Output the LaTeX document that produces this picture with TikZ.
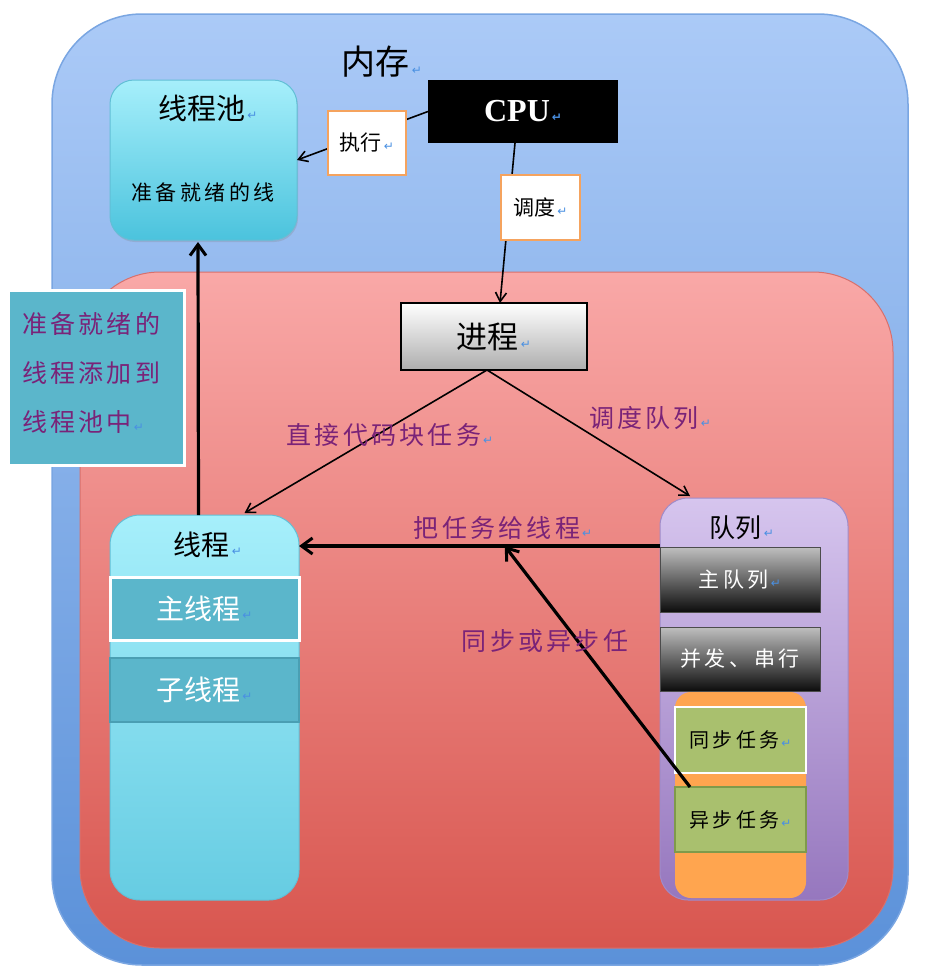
\documentclass[tikz,border=0pt]{standalone}
\usepackage{fontspec}
\setmainfont{Liberation Serif}
\newfontfamily\cjk{Noto Sans CJK SC}
\newfontfamily\cjkw{Noto Sans CJK SC}[LetterSpace=13]
\newfontfamily\dejavu{DejaVu Sans}
\usetikzlibrary{arrows.meta,calc,shadows}
\definecolor{blueTop}{HTML}{ABCAF7}
\definecolor{blueBot}{HTML}{5B91D9}
\definecolor{blueEdge}{HTML}{7AA6E2}
\definecolor{redTop}{HTML}{F9A8A7}
\definecolor{redBot}{HTML}{D8564F}
\definecolor{redEdge}{HTML}{D8706C}
\definecolor{cyanTop}{HTML}{A6EFFB}
\definecolor{cyanBot}{HTML}{4BC3DD}
\definecolor{cyanEdge}{HTML}{62BFD6}
\definecolor{tealFill}{HTML}{5BB6CB}
\definecolor{tealEdge}{HTML}{4A9FB3}
\definecolor{purTop}{HTML}{D6C5EE}
\definecolor{purBot}{HTML}{9677BE}
\definecolor{purEdge}{HTML}{A08BC8}
\definecolor{orangeFill}{HTML}{FFA54F}
\definecolor{greenFill}{HTML}{A9C06E}
\definecolor{greenEdge}{HTML}{7F9A4B}
\definecolor{tagEdge}{HTML}{F5A35E}
\definecolor{labelPurple}{HTML}{7A2378}
\definecolor{retblue}{HTML}{4A90E2}
\newcommand\retm{{\dejavu\fontsize{12}{12}\selectfont\color{retblue}\,↵}}
\newcommand\cjks[1]{\cjk\fontsize{#1}{#1}\selectfont}
\newcommand\cjkws[1]{\cjkw\fontsize{#1}{#1}\selectfont}
\tikzset{
  every node/.style={inner sep=0pt, outer sep=0pt},
  outerbox/.style={draw=blueEdge, line width=1.5pt, top color=blueTop, bottom color=blueBot, rounded corners=90pt},
  redbox/.style={draw=redEdge, line width=1pt, top color=redTop, bottom color=redBot, rounded corners=80pt},
  cyanbox/.style={draw=cyanEdge, line width=1pt, top color=cyanTop, bottom color=cyanBot},
  tagbox/.style={draw=tagEdge, fill=white, line width=2.5pt},
  btnbox/.style={draw=black!70, line width=0.8pt, top color=black!25, middle color=black!70, bottom color=black!95},
  greenbox/.style={fill=greenFill, line width=2.5pt},
  lbl/.style={text=labelPurple},
  thin arrow/.style={draw=black, line width=1.6pt, -{Straight Barb[length=9pt,width=11pt,line width=1.6pt]}},
  thick arrow/.style={draw=black, line width=3.2pt, -{Straight Barb[length=11pt,width=16pt,line width=3pt]}}
}
\begin{document}
\begin{tikzpicture}[x=1pt,y=-1pt]
\useasboundingbox (0,0) rectangle (926,980);
\fill[white] (0,0) rectangle (926,980);
% memory (outer)
\node[outerbox, minimum width=856pt, minimum height=951pt] (mem) at (480,489.5) {};
\node (memlbl) at (382,62) {\cjks{34}内存\retm};
% process area (red)
\node[redbox, minimum width=813pt, minimum height=676pt] (procarea) at (486.5,610) {};
% thread pool
\node[cyanbox, rounded corners=24pt, minimum width=187pt, minimum height=160pt, drop shadow={opacity=0.25,shadow xshift=1pt,shadow yshift=-2pt}] (pool) at (203.5,160) {};
\node (pooltitle) at (208,108) {\cjks{29}线程池\retm};
\node (pooltext) at (203,192) {\cjks{21}准\,备\,就\,绪\,的\,线};
% CPU
\node[fill=black, minimum width=190pt, minimum height=63pt] (cpu) at (523,111.5) {\fontsize{32}{32}\selectfont\bfseries\color{white}CPU\retm};
% arrows from CPU
\draw[thin arrow] (cpu.west) -- (pool.east);
\draw[thin arrow] ($(cpu.south)+(-8,0)$) -- ($(494,303)+(6,0)$) coordinate (procin);
% tags
\node[tagbox, minimum width=78pt, minimum height=64pt] (exec) at (367,143) {\cjks{21}执行\retm};
\node[tagbox, minimum width=79pt, minimum height=65pt] (sched) at (540.5,207.5) {\cjks{21}调度\retm};
% process
\node[draw=black, line width=1.2pt, top color=white, bottom color=black!32, minimum width=186pt, minimum height=67pt] (proc) at (494,336.5) {\cjks{31}进程\retm};
% note
\node[fill=tealFill, draw=white, line width=3pt, minimum width=176pt, minimum height=175pt, drop shadow={opacity=0.3,shadow xshift=2pt,shadow yshift=-2pt}] (note) at (96,377.5) {};
\node[lbl, align=left, anchor=north west, font=\cjkws{25}] (notetext) at (22,312) {准备就绪的\\[24pt]线程添加到\\[24pt]线程池中\retm};
% thread
\node[cyanbox, rounded corners=30pt, top color=cyanTop, bottom color=cyanBot!85!white, minimum width=189pt, minimum height=385pt] (thread) at (204.5,707.5) {};
\node (threadtitle) at (208,545) {\cjks{28}线程\retm};
\node[fill=tealFill, draw=white, line width=3pt, minimum width=189pt, minimum height=63pt] (mainthread) at (204.5,608.5) {\color{white}\cjks{28}主线程\retm};
\node[fill=tealFill, draw=tealEdge, line width=1.5pt, minimum width=189pt, minimum height=64pt] (subthread) at (204.5,690) {\color{white}\cjks{28}子线程\retm};
% queue
\node[draw=purEdge, line width=1pt, top color=purTop, bottom color=purBot, rounded corners=28pt, minimum width=188pt, minimum height=402pt] (queue) at (754,699) {};
\node (queuetitle) at (742,528) {\cjks{26}队列\retm};
\node[btnbox, minimum width=160pt, minimum height=65pt] (mainq) at (740,579.5) {\color{white}\cjks{21}主\,队\,列\retm};
\node[btnbox, minimum width=160pt, minimum height=64pt] (conc) at (740,659) {\color{white}\cjks{21}并\,发\,、\,串\,行};
\node[fill=orangeFill, rounded corners=16pt, minimum width=131pt, minimum height=206pt] (tasks) at (740.5,795) {};
\node[greenbox, draw=white, minimum width=131pt, minimum height=66pt] (sync) at (740.5,740) {\cjks{20}同\,步\,任\,务\retm};
\node[greenbox, draw=greenEdge, minimum width=131pt, minimum height=65pt] (async) at (740.5,819.5) {\cjks{20}异\,步\,任\,务\retm};
% connectors
\draw[thick arrow] ($(thread.north)+(-6,0)$) -- ($(pool.south)+(-5.5,2)$);
\draw[thin arrow] ($(proc.south)+(-7,0)$) -- ($(thread.north)+(40,-2)$);
\draw[thin arrow] ($(proc.south)+(-7,0)$) -- ($(queue.north west)+(30,-2)$);
\draw[thick arrow] ($(queue.north west)+(0,48)$) -- ($(thread.north east)+(0,31)$) coordinate[pos=0.43] (mid);
\draw[thick arrow] ($(async.north west)+(15,0)$) -- (mid);
% labels
\node[lbl] (l1) at (390,435) {\cjkws{25}直接代码块任务\retm};
\node[lbl] (l2) at (650,418) {\cjkws{25}调度队列\retm};
\node[lbl] (l3) at (503,528) {\cjkws{25}把任务给线程\retm};
\node[lbl] (l4) at (545,641) {\cjkws{25}同步或异步任};
\end{tikzpicture}
\end{document}
